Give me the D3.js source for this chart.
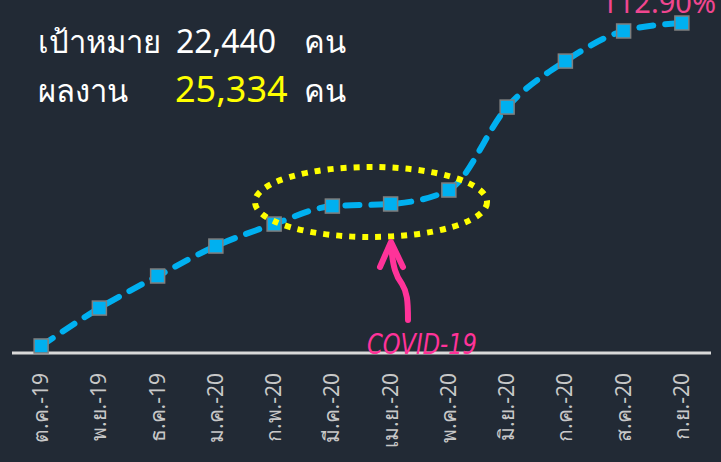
<!DOCTYPE html>
<html>
<head>
<meta charset="UTF-8">
<script src="https://d3js.org/d3.v7.min.js"></script>
<style>
  body { margin: 0; padding: 0; background: #222a35; overflow: hidden; }
  svg { display: block; }
</style>
</head>
<body>
<svg width="721" height="462"></svg>
<script>
// data
const months = ["ต.ค.-19", "พ.ย.-19", "ธ.ค.-19", "ม.ค.-20", "ก.พ.-20", "มี.ค.-20",
                "เม.ย.-20", "พ.ค.-20", "มิ.ย.-20", "ก.ค.-20", "ส.ค.-20", "ก.ย.-20"];
const results = [540, 3450, 5910, 8210, 9900, 11280, 11440, 12510, 18880, 22410, 24720, 25334];
const target = 22440;
const finalResult = 25334;

const svg = d3.select("svg");

const x = d3.scalePoint().domain(months).range([12, 711]).padding(0.5);
const y = d3.scaleLinear().domain([0, finalResult]).range([353, 23]);

// axis baseline
svg.append("line")
  .attr("x1", 12).attr("x2", 711)
  .attr("y1", 353).attr("y2", 353)
  .attr("stroke", "#d9d9d9").attr("stroke-width", 3);

// tick labels (rotated)
svg.append("g").selectAll("text")
  .data(months).enter().append("text")
  .attr("transform", d => `translate(${x(d) + 7},373) rotate(-90)`)
  .attr("text-anchor", "end")
  .attr("font-family", "'Noto Sans', sans-serif")
  .attr("font-size", 21)
  .attr("fill", "#c8c8c8")
  .text(d => d);

// line
const line = d3.line()
  .x((d, i) => x(months[i]))
  .y(d => y(d))
  .curve(d3.curveMonotoneX);

svg.append("path")
  .datum(results)
  .attr("d", line)
  .attr("fill", "none")
  .attr("stroke", "#00b0f0")
  .attr("stroke-width", 6)
  .attr("stroke-linecap", "round")
  .attr("stroke-dasharray", "14,12");

// markers
svg.append("g").selectAll("rect")
  .data(results).enter().append("rect")
  .attr("x", (d, i) => x(months[i]) - 7)
  .attr("y", d => y(d) - 7)
  .attr("width", 14).attr("height", 14)
  .attr("fill", "#00b0f0")
  .attr("stroke", "#7f7f7f")
  .attr("stroke-width", 1.5);

// covid ellipse
svg.append("ellipse")
  .attr("cx", 371).attr("cy", 202)
  .attr("rx", 116).attr("ry", 35)
  .attr("fill", "none")
  .attr("stroke", "#ffff00")
  .attr("stroke-width", 6)
  .attr("stroke-dasharray", "6,7");

// arrow
const pink = "#ff3399";
svg.append("path")
  .attr("d", "M408,320 C408,300 407,292 402,284 C396,276 393,268 391,245")
  .attr("fill", "none").attr("stroke", pink)
  .attr("stroke-width", 6).attr("stroke-linecap", "round");
svg.append("path")
  .attr("d", "M380,267 L391,242 L403,267")
  .attr("fill", "none").attr("stroke", pink)
  .attr("stroke-width", 6).attr("stroke-linecap", "round").attr("stroke-linejoin", "round");

svg.append("text")
  .attr("x", 367).attr("y", 354)
  .attr("font-family", "'DejaVu Sans', sans-serif")
  .attr("font-style", "italic")
  .attr("font-size", 29)
  .attr("textLength", 110)
  .attr("lengthAdjust", "spacingAndGlyphs")
  .attr("fill", pink)
  .text("COVID-19");

// percent
svg.append("text")
  .attr("x", 716).attr("y", 13)
  .attr("text-anchor", "end")
  .attr("font-family", "'Noto Sans', sans-serif")
  .attr("font-size", 29)
  .attr("fill", "#f0468f")
  .text(d3.format(".2f")(finalResult / target * 100) + "%");

// header texts
const fmt = d3.format(",");
const hdr = svg.append("g")
  .attr("font-family", "'Noto Sans', sans-serif")
  .attr("font-size", 31)
  .attr("fill", "#ffffff");
hdr.append("text").attr("x", 38).attr("y", 53).text("เป้าหมาย");
hdr.append("text").attr("x", 176).attr("y", 53).attr("font-size", 32).text(fmt(target));
hdr.append("text").attr("x", 304).attr("y", 53).text("คน");
hdr.append("text").attr("x", 38).attr("y", 102).text("ผลงาน");
hdr.append("text").attr("x", 175).attr("y", 102).attr("fill", "#ffff00")
  .attr("font-size", 36).text(fmt(finalResult));
hdr.append("text").attr("x", 304).attr("y", 102).text("คน");
</script>
</body>
</html>
